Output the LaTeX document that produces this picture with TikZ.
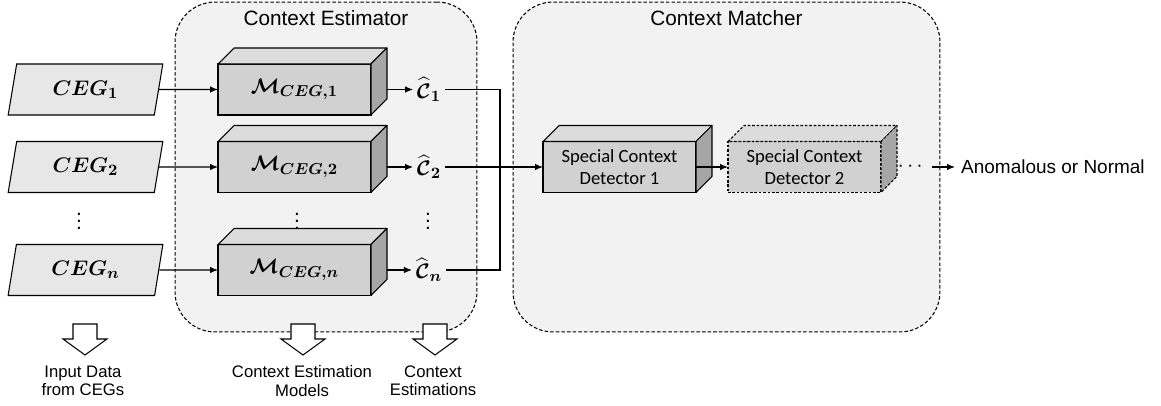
\documentclass[tikz,border=0pt]{standalone}
\usepackage{amsmath,bm}
\usepackage[no-math]{fontspec}
\setmainfont{Liberation Sans}
\newfontfamily\detfont{Carlito}
\usetikzlibrary{arrows.meta,positioning,shapes.geometric}

\definecolor{groupfill}{HTML}{F2F2F2}
\definecolor{inputfill}{HTML}{E7E7E7}
\definecolor{frontfill}{HTML}{D1D1D1}
\definecolor{topfill}{HTML}{DCDCDC}
\definecolor{sidefill}{HTML}{A6A6A6}

\begin{document}
\begin{tikzpicture}[
    x=0.02cm, y=-0.02cm,
    every node/.style={font=\fontsize{11.8}{14}\selectfont},
    group/.style={
      draw=black, line width=0.6pt, dash pattern=on 2pt off 1.2pt,
      fill=groupfill, rounded corners=0.8cm,
      minimum height=6.6cm, inner sep=0pt
    },
    grouplabel/.style={font=\fontsize{11.8}{14}\selectfont},
    input/.style={
      trapezium, trapezium left angle=77, trapezium right angle=103,
      trapezium stretches=true,
      draw, line width=0.6pt, fill=inputfill,
      minimum width=3.1cm, minimum height=1.02cm, inner sep=0pt,
      font=\fontsize{12.5}{14}\selectfont
    },
    model/.style={
      draw, line width=0.6pt, fill=frontfill,
      minimum width=3.06cm, minimum height=1.02cm,
      inner sep=0pt, outer sep=0pt,
      font=\fontsize{12.5}{14}\selectfont
    },
    detector/.style={model, align=center,
      font=\detfont\fontsize{10.6}{12.9}\selectfont},
    dashedbox/.style={dash pattern=on 1.5pt off 1pt},
    estimate/.style={inner sep=2pt, font=\fontsize{12.5}{14}\selectfont},
    cubetop/.style={draw, line width=0.6pt, fill=topfill, line join=round},
    cubeside/.style={draw, line width=0.6pt, fill=sidefill, line join=round},
    arrow/.style={-{Latex[length=1.6mm, width=1.3mm]}, line width=0.6pt},
    bus/.style={line width=1.1pt},
    blockarrow/.style={draw, line width=0.6pt, fill=white, line join=miter},
    note/.style={align=center, font=\fontsize{9.5}{10.5}\selectfont}
  ]

    \useasboundingbox (0,0) rectangle (1161,406);

    % containers
    \node[group, minimum width=6.04cm] (estimator) at (326,167) {};
    \node[group, minimum width=8.54cm] (matcher) at (726.5,167) {};
    \node[grouplabel] (estlabel) at (326,18) {Context Estimator};
    \node[grouplabel] (matlabel) at (726.5,18) {Context Matcher};

    % inputs
    \node[input] (in1) at (85.5,89.5) {$\bm{CEG_1}$};
    \node[input] (in2) at (85.5,167) {$\bm{CEG_2}$};
    \node[input] (inn) at (85.5,270) {$\bm{CEG_n}$};

    % models and estimations
    \node[model] (m1) at (294.5,89.5) {$\bm{\mathcal{M}_{CEG,1}}$};
    \node[model] (m2) at (294.5,167) {$\bm{\mathcal{M}_{CEG,2}}$};
    \node[model] (mn) at (294.5,270) {$\bm{\mathcal{M}_{CEG,n}}$};

    \node[estimate] (c1) at (429,89.5) {$\bm{\widehat{\mathcal{C}}_1}$};
    \node[estimate] (c2) at (429,167) {$\bm{\widehat{\mathcal{C}}_2}$};
    \node[estimate] (cn) at (429,270) {$\bm{\widehat{\mathcal{C}}_n}$};

    \node (vdin) at (79,216) {$\vdots$};
    \node (vdm) at (297,216) {$\vdots$};
    \node (vdc) at (428,216) {$\vdots$};

    % detectors
    \node[detector] (sd1) at (619.5,167) {Special Context\\Detector 1};
    \node[detector, dashedbox] (sd2) at (804.5,167)
      {Special Context\\Detector 2};

    \foreach \b/\s in {m1/solid, m2/solid, mn/solid, sd1/solid, sd2/dashedbox}{
      \draw[cubetop, \s] (\b.north west) -- ++(16,-16)
        -- ([shift={(16,-16)}]\b.north east) -- (\b.north east) -- cycle;
      \draw[cubeside, \s] (\b.north east) -- ++(16,-16)
        -- ([shift={(16,-16)}]\b.south east) -- (\b.south east) -- cycle;
    }

    \node (dots) at (912,167) {$\cdots$};
    \node[anchor=west, font=\fontsize{10.8}{13}\selectfont] (out) at (955,167)
      {Anomalous or Normal};

    % block arrows and notes
    \foreach \cx in {85,303,435}{
      \draw[blockarrow] (\cx-12,324) -- (\cx+12,324) -- (\cx+12,339)
        -- (\cx+22,339) -- (\cx,355) -- (\cx-22,339) -- (\cx-12,339) -- cycle;
    }
    \node[note] (note1) at (83,381) {Input Data\\from CEGs};
    \node[note] (note2) at (302,381) {Context Estimation\\Models};
    \node[note] (note3) at (433,381) {Context\\Estimations};

    \draw[arrow] (in1.east) -- (m1.west);
    \draw[arrow] (in2.east) -- (m2.west);
    \draw[arrow] (inn.east) -- (mn.west);
    \draw[arrow] ([xshift=0.32cm]m1.east) -- (c1.west);
    \draw[arrow] ([xshift=0.32cm]m2.east) -- (c2.west);
    \draw[arrow] ([xshift=0.32cm]mn.east) -- (cn.west);

    \coordinate (bus) at (500,167);
    \draw[bus] (c1.east) -| (bus) |- (cn.east);
    \draw[bus] (c2.east) -- (bus);
    \draw[arrow] (bus) -- (sd1.west);
    \draw[arrow] (sd1.east) -- (sd2.west);
    \draw[arrow] (dots.east) -- (out.west);

  \end{tikzpicture}
\end{document}
